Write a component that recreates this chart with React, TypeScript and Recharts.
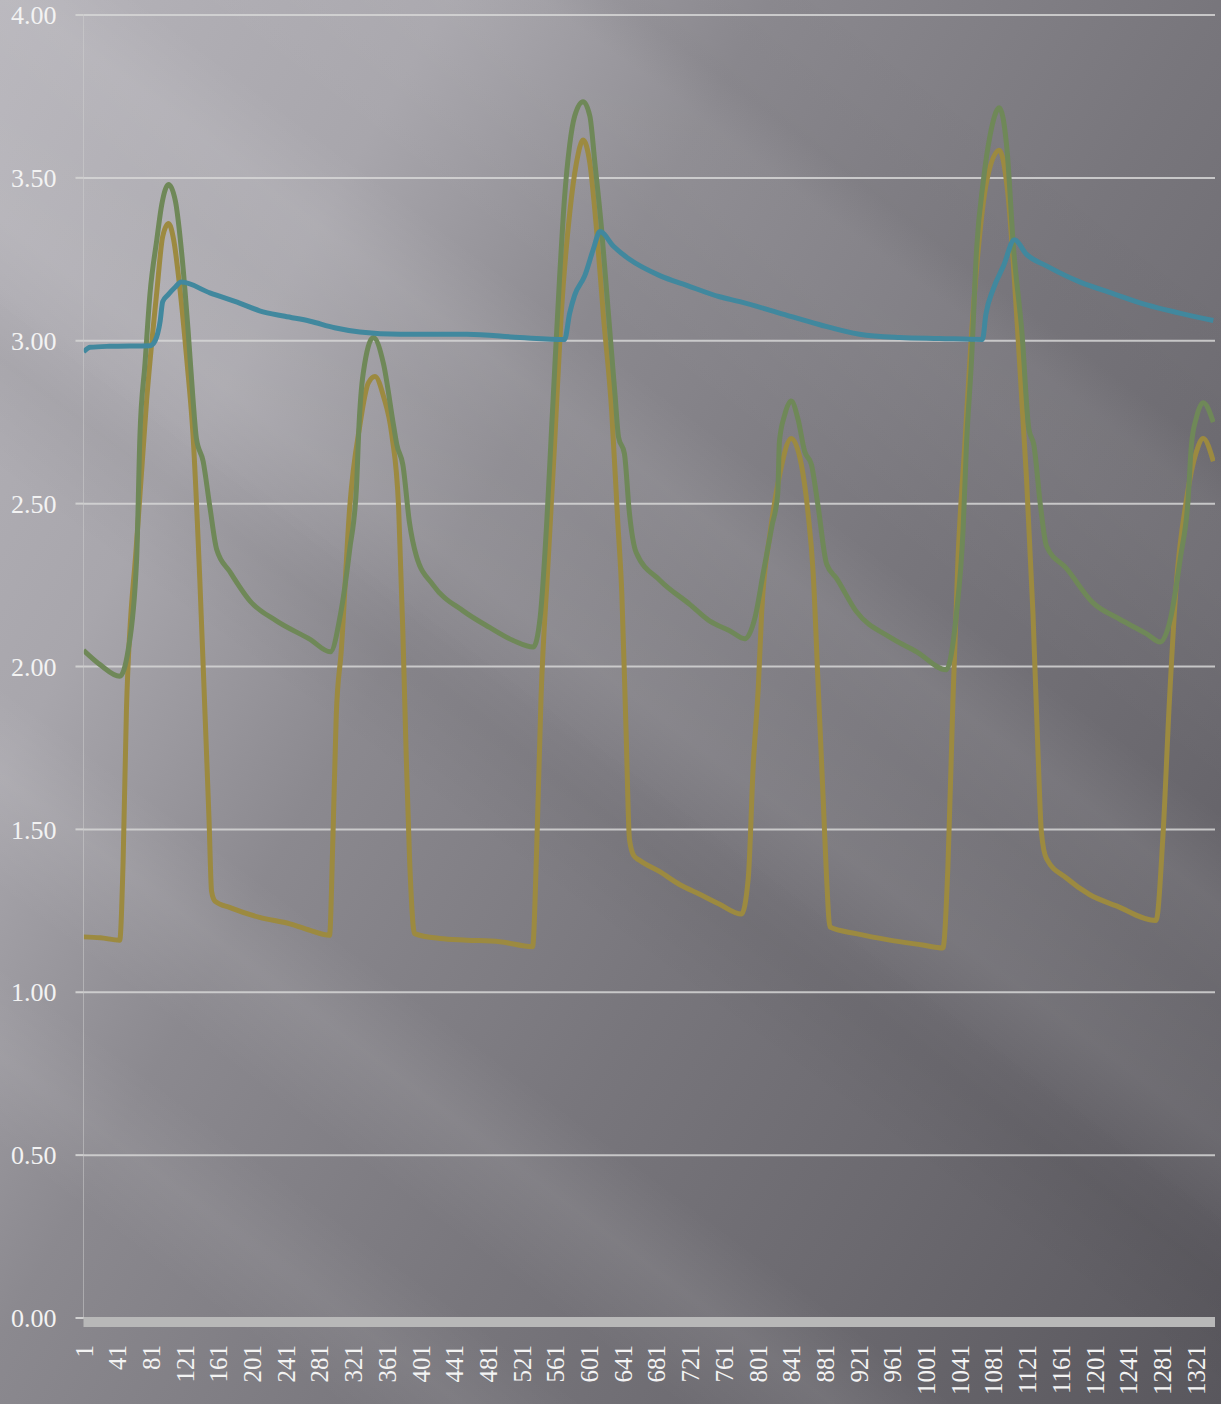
import React from 'react';
import { LineChart, Line, XAxis, YAxis, CartesianGrid } from 'recharts';

// tick labels
const xTicks = [1, 41, 81, 121, 161, 201, 241, 281, 321, 361, 401, 441, 481, 521, 561, 601, 641, 681, 721, 761, 801, 841, 881, 921, 961, 1001, 1041, 1081, 1121, 1161, 1201, 1241, 1281, 1321];
const yTicks = [0, 0.5, 1, 1.5, 2, 2.5, 3, 3.5, 4];

// [sample index, value]
const goldPoints: [number, number][] = [
  [1, 1.17], [21, 1.167], [44, 1.16], [48, 1.4], [52, 1.87], [64, 2.38], [76, 2.82], [88, 3.15], [95, 3.32], [102, 3.36],
  [108, 3.31], [115, 3.17], [124, 2.93], [131, 2.71], [139, 2.27], [145, 1.87], [150, 1.53], [153, 1.31], [157, 1.28], [175, 1.26],
  [210, 1.23], [246, 1.21], [270, 1.19], [293, 1.175], [297, 1.47], [301, 1.85], [307, 2.05], [317, 2.49], [329, 2.74], [339, 2.87],
  [347, 2.89], [357, 2.83], [367, 2.71], [375, 2.49], [380, 2.11], [384, 1.73], [388, 1.41], [394, 1.18], [424, 1.165], [456, 1.16],
  [495, 1.155], [534, 1.14], [539, 1.45], [544, 1.9], [552, 2.3], [560, 2.675], [568, 3.08], [578, 3.39], [586, 3.545], [594, 3.616],
  [602, 3.545], [610, 3.34], [618, 3.08], [628, 2.78], [635, 2.45], [640, 2.22], [645, 1.8], [649, 1.47], [654, 1.42], [661, 1.405],
  [685, 1.37], [709, 1.33], [733, 1.3], [756, 1.27], [782, 1.24], [790, 1.35], [796, 1.7], [802, 1.94], [806, 2.17], [816, 2.41],
  [827, 2.585], [841, 2.7], [853, 2.62], [861, 2.47], [867, 2.29], [873, 1.94], [879, 1.59], [883, 1.35], [887, 1.2], [918, 1.18],
  [958, 1.16], [997, 1.145], [1021, 1.136], [1027, 1.386], [1033, 1.9], [1039, 2.335], [1047, 2.68], [1055, 3.02], [1063, 3.28], [1073, 3.49],
  [1088, 3.585], [1098, 3.455], [1110, 3.02], [1120, 2.59], [1128, 2.16], [1134, 1.73], [1138, 1.49], [1144, 1.41], [1168, 1.35], [1195, 1.3],
  [1227, 1.265], [1274, 1.22], [1282, 1.47], [1290, 1.9], [1298, 2.25], [1310, 2.51], [1322, 2.66], [1330, 2.7], [1342, 2.63],
];

const greenPoints: [number, number][] = [
  [1, 2.05], [21, 2.005], [44, 1.97], [54, 2.05], [64, 2.325], [68, 2.71], [74, 2.93], [80, 3.147], [88, 3.31], [94, 3.42],
  [102, 3.48], [110, 3.43], [118, 3.257], [125, 3.037], [131, 2.82], [135, 2.7], [143, 2.63], [151, 2.49], [159, 2.36], [175, 2.29],
  [199, 2.2], [230, 2.14], [270, 2.083], [294, 2.045], [306, 2.16], [317, 2.36], [325, 2.55], [328, 2.74], [333, 2.9], [345, 3.01],
  [357, 2.93], [369, 2.74], [373, 2.68], [380, 2.62], [388, 2.44], [396, 2.34], [416, 2.25], [452, 2.17], [483, 2.12], [511, 2.08],
  [535, 2.06], [543, 2.15], [551, 2.45], [556, 2.7], [560, 2.9], [566, 3.19], [572, 3.44], [578, 3.6], [584, 3.69], [594, 3.734],
  [602, 3.69], [608, 3.545], [616, 3.34], [624, 3.084], [632, 2.83], [636, 2.705], [643, 2.654], [649, 2.47], [657, 2.35], [685, 2.265],
  [721, 2.19], [744, 2.14], [768, 2.11], [786, 2.085], [798, 2.15], [808, 2.29], [818, 2.43], [825, 2.53], [827, 2.69], [833, 2.77],
  [841, 2.815], [849, 2.76], [857, 2.66], [865, 2.62], [873, 2.49], [883, 2.315], [895, 2.27], [918, 2.17], [958, 2.09], [990, 2.045],
  [1025, 1.99], [1037, 2.16], [1045, 2.42], [1049, 2.68], [1055, 2.94], [1061, 3.28], [1069, 3.49], [1077, 3.63], [1088, 3.715], [1097, 3.59],
  [1105, 3.28], [1115, 3.02], [1123, 2.73], [1129, 2.68], [1137, 2.49], [1144, 2.37], [1168, 2.3], [1199, 2.196], [1231, 2.145], [1263, 2.1],
  [1279, 2.075], [1291, 2.145], [1303, 2.335], [1312, 2.51], [1316, 2.68], [1322, 2.765], [1330, 2.81], [1342, 2.75],
];

const bluePoints: [number, number][] = [
  [1, 2.966], [9, 2.98], [32, 2.983], [80, 2.985], [86, 3.0], [92, 3.06], [95, 3.12], [101, 3.14], [110, 3.165], [117, 3.18],
  [151, 3.147], [187, 3.115], [210, 3.092], [240, 3.075], [270, 3.06], [299, 3.04], [329, 3.027], [377, 3.02], [456, 3.02], [519, 3.01],
  [572, 3.004], [578, 3.084], [584, 3.14], [596, 3.2], [606, 3.28], [614, 3.335], [630, 3.29], [649, 3.25], [685, 3.2], [717, 3.17],
  [756, 3.135], [780, 3.12], [827, 3.085], [874, 3.05], [922, 3.02], [970, 3.01], [1017, 3.007], [1068, 3.004], [1072, 3.08], [1081, 3.16],
  [1093, 3.23], [1106, 3.31], [1120, 3.266], [1144, 3.23], [1184, 3.18], [1223, 3.145], [1263, 3.11], [1302, 3.085], [1342, 3.062],
];

const toRows = (pts: [number, number][]) => pts.map(([x, v]) => ({ x, v }));

const FONT = '"Liberation Serif", "Times New Roman", serif';

const XTick = (props: any) => {
  const { x, y, payload } = props;
  return (
    <text
      transform={`translate(${x},${y + 27}) rotate(-90)`}
      textAnchor="end"
      dy="0.36em"
      fill="#f3f3f3"
      fontSize={25}
      fontFamily={FONT}
    >
      {payload.value}
    </text>
  );
};

// soft diagonal light rays over a left-light / right-dark wash
const background = [
  'linear-gradient(37deg, rgba(255,255,255,0) 11%, rgba(255,255,255,0.06) 15%, rgba(255,255,255,0) 19%)',
  'linear-gradient(37deg, rgba(255,255,255,0) 22%, rgba(255,255,255,0.08) 27%, rgba(255,255,255,0) 31%)',
  'linear-gradient(37deg, rgba(0,0,0,0) 40%, rgba(0,0,0,0.04) 45%, rgba(0,0,0,0) 48%)',
  'linear-gradient(37deg, rgba(255,255,255,0) 47%, rgba(255,255,255,0.08) 51%, rgba(255,255,255,0.05) 57%, rgba(255,255,255,0.08) 61%, rgba(255,255,255,0) 65%)',
  'linear-gradient(37deg, rgba(255,255,255,0) 66%, rgba(255,255,255,0.045) 75%, rgba(255,255,255,0.04) 78%, rgba(0,0,0,0.02) 80.5%, rgba(0,0,0,0) 88%)',
  'linear-gradient(120deg, #b6b4ba 0%, #a8a6ac 22%, #8b898f 38%, #78767c 60%, #6b696f 78%, #59575d 100%)',
].join(', ');

export default function App() {
  return (
    <div style={{ position: 'absolute', left: 0, top: 0, width: 1221, height: 1404, background, overflow: 'hidden' }}>
      <LineChart width={1221} height={1404} margin={{ top: 15, right: 6, left: 0, bottom: 0 }}>
        <CartesianGrid vertical={false} stroke="#d6d6d6" strokeOpacity={0.85} strokeWidth={2} />
        <XAxis
          type="number"
          dataKey="x"
          domain={[1, 1344]}
          ticks={xTicks}
          interval={0}
          height={86}
          tickSize={0}
          tickMargin={0}
          tickLine={false}
          tick={<XTick />}
          axisLine={{ stroke: '#b8b8b8', strokeWidth: 10, transform: 'translate(0,4)' } as any}
          allowDataOverflow
        />
        <YAxis
          type="number"
          domain={[0, 4]}
          ticks={yTicks}
          interval={0}
          width={83.5}
          tickSize={8}
          tickMargin={19}
          tickLine={{ stroke: '#d0d0d0', strokeWidth: 2 }}
          axisLine={{ stroke: '#cfcfcf', strokeOpacity: 0.5, strokeWidth: 1 }}
          tickFormatter={(v: number) => v.toFixed(2)}
          tick={{ fill: '#f3f3f3', fontSize: 26, fontFamily: FONT }}
        />
        <Line data={toRows(goldPoints)} dataKey="v" type="monotone" stroke="#9c8a40" strokeWidth={5} dot={false} strokeLinejoin="round" isAnimationActive={false} />
        <Line data={toRows(greenPoints)} dataKey="v" type="monotone" stroke="#6f8858" strokeWidth={5} dot={false} strokeLinejoin="round" isAnimationActive={false} />
        <Line data={toRows(bluePoints)} dataKey="v" type="monotone" stroke="#41889e" strokeWidth={5} dot={false} strokeLinejoin="round" isAnimationActive={false} />
      </LineChart>
    </div>
  );
}
